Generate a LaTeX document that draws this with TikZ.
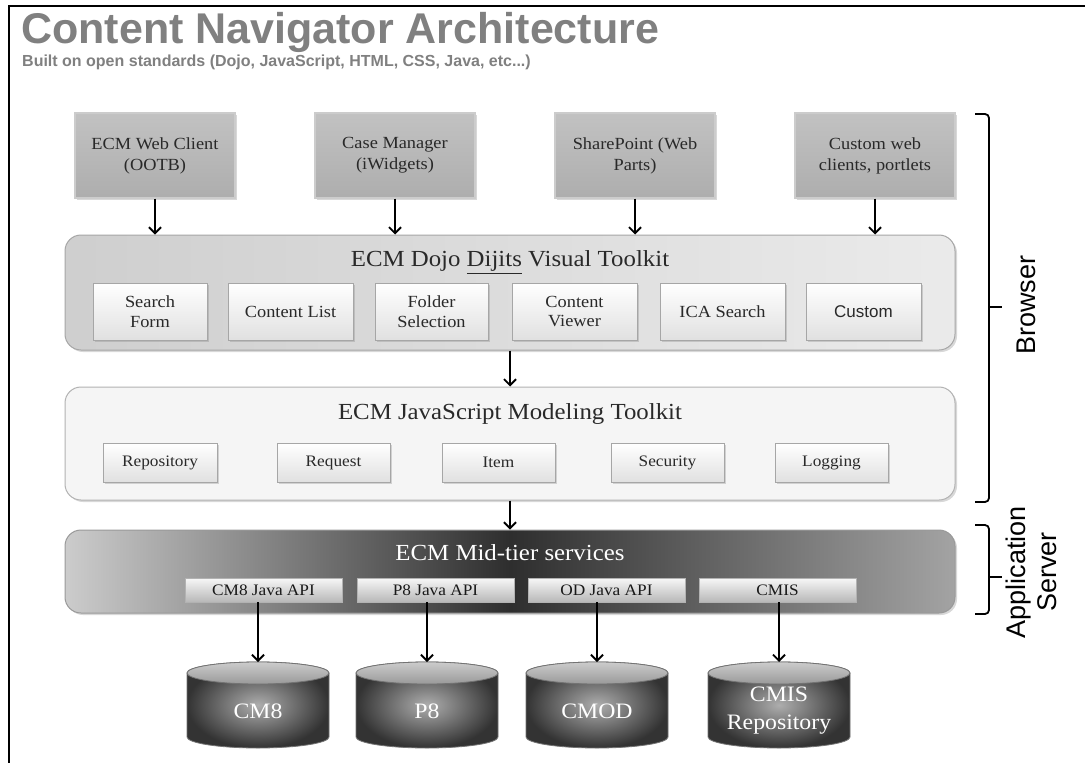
\documentclass[tikz,border=0pt]{standalone}
\usepackage{fontspec}
\setmainfont{Liberation Serif}[FakeStretch=1.08]
\newfontfamily\arial{Liberation Sans}
\usetikzlibrary{shadows,arrows.meta}
\definecolor{txt}{gray}{0.16}
\definecolor{ttl}{gray}{0.5}
\newcommand{\dbcyl}[3]{%
  \shade[inner color=black!32, outer color=black!80, draw=black!55, line width=0.8pt]
    (#2-71,673) -- (#2-71,737) arc[start angle=180, end angle=360, x radius=71pt, y radius=11pt]
    -- (#2+71,673) arc[start angle=0, end angle=180, x radius=71pt, y radius=11pt] -- cycle;
  \shade[top color=black!20, bottom color=black!40, draw=black!55, line width=0.8pt]
    (#2,673) ellipse[x radius=71pt, y radius=11pt];
  \coordinate (#1top) at (#2,662);
  \node[dbtext] (#1) at (#2,711) {#3};
}
\begin{document}
\begin{tikzpicture}[x=1pt,y=-1pt,
  shade1/.style={drop shadow={opacity=0.3, shadow xshift=2pt, shadow yshift=-2pt}},
  topbox/.style={draw=black!20, line width=1.2pt, top color=black!24, bottom color=black!32,
    minimum width=160pt, minimum height=85pt, align=center, inner sep=2pt,
    font=\fontsize{17}{21}\selectfont, text=txt, shade1},
  container/.style={rounded corners=16pt, line width=1pt, minimum width=890pt, shade1},
  ctitle/.style={font=\fontsize{23}{26}\selectfont, text=txt, inner sep=0pt},
  inbox/.style={draw=black!35, line width=0.8pt, top color=white, bottom color=black!12,
    minimum height=57pt, align=center, inner sep=1pt, font=\fontsize{17}{19.5}\selectfont, text=txt, shade1},
  jsbox/.style={inbox, minimum height=39pt, minimum width=113pt, font=\fontsize{16}{18}\selectfont},
  apibox/.style={draw=black!30, line width=0.8pt, top color=black!3, bottom color=black!28,
    minimum width=157pt, minimum height=24pt, inner sep=0pt, font=\fontsize{16}{18}\selectfont, text=black!90},
  dbtext/.style={text=white, align=center, font=\fontsize{22}{28}\selectfont, inner sep=0pt},
  arr/.style={line width=1.9pt, -{Straight Barb[length=6pt,width=12pt]}},
  brk/.style={line width=1.8pt, rounded corners=4pt},
  side/.style={rotate=90, font=\arial\fontsize{27}{31}\selectfont, align=center, inner sep=0pt}
]
\useasboundingbox (0,0) rectangle (1085,763);
\fill[white] (0,0) rectangle (1085,763);
\draw[line width=2.6pt] (9,763) -- (9,6) -- (1085,6);

% titles
\node[anchor=base west, inner sep=0pt, text=ttl, font=\arial\bfseries\fontsize{43}{43}\selectfont] (title) at (21,43) {Content Navigator Architecture};
\node[anchor=base west, inner sep=0pt, text=ttl, font=\arial\bfseries\fontsize{16}{18}\selectfont] (subtitle) at (22,66) {Built on open standards (Dojo, JavaScript, HTML, CSS, Java, etc...)};

% top boxes
\node[topbox] (tb1) at (155,155.5) {ECM Web Client\\(OOTB)};
\node[topbox] (tb2) at (395,155.5) {Case Manager\\(iWidgets)};
\node[topbox] (tb3) at (635,155.5) {SharePoint (Web\\Parts)};
\node[topbox] (tb4) at (875,155.5) {Custom web\\clients, portlets};

% Dojo container
\node[container, draw=black!35, left color=black!19, right color=black!8, minimum height=115pt] (dojo) at (510,292.5) {};
\node[ctitle] (dojotitle) at (510,262) {ECM Dojo \underline{Dijits} Visual Toolkit};
\node[inbox, minimum width=114pt] (sf) at (150,311.5) {Search\\Form};
\node[inbox, minimum width=125pt] (cl) at (290.5,311.5) {Content List};
\node[inbox, minimum width=113pt] (fs) at (431.5,311.5) {Folder\\Selection};
\node[inbox, minimum width=125pt] (cv) at (574.5,311.5) {Content\\Viewer};
\node[inbox, minimum width=125pt] (ica) at (722.5,311.5) {ICA Search};
\node[inbox, minimum width=115pt, font=\arial\fontsize{17}{19}\selectfont] (cu) at (863.5,311.5) {Custom};

% JS container
\node[container, draw=black!30, fill=black!4, minimum height=113pt] (js) at (510,443.5) {};
\node[ctitle] (jstitle) at (510,414) {ECM JavaScript Modeling Toolkit};
\node[jsbox, minimum width=114pt] (rep) at (160,462.5) {Repository};
\node[jsbox] (req) at (333.5,462.5) {Request};
\node[jsbox] (item) at (498.5,462.5) {Item};
\node[jsbox] (sec) at (667.5,462.5) {Security};
\node[jsbox] (log) at (831.5,462.5) {Logging};

% Mid-tier container
\node[container, draw=black!40, left color=black!20, right color=black!36, middle color=black!82, minimum height=83pt] (mid) at (510,571.5) {};
\node[ctitle, text=white] (midtitle) at (510,553) {ECM Mid-tier services};
\node[apibox] (api1) at (263.5,590) {CM8 Java API};
\node[apibox] (api2) at (435.5,590) {P8 Java API};
\node[apibox] (api3) at (606.5,590) {OD Java API};
\node[apibox] (api4) at (777.5,590) {CMIS};

% databases
\dbcyl{db1}{258}{CM8}
\dbcyl{db2}{427}{P8}
\dbcyl{db3}{597}{CMOD}
\dbcyl{db4}{779}{CMIS\\Repository}

% arrows
\draw[arr] (tb1.south) -- (tb1.south |- dojo.north);
\draw[arr] (tb2.south) -- (tb2.south |- dojo.north);
\draw[arr] (tb3.south) -- (tb3.south |- dojo.north);
\draw[arr] (tb4.south) -- (tb4.south |- dojo.north);
\draw[arr] (dojo.south) -- (js.north);
\draw[arr] (js.south) -- (mid.north);
\draw[arr] (api1.south -| db1top) -- (db1top);
\draw[arr] (api2.south -| db2top) -- (db2top);
\draw[arr] (api3.south -| db3top) -- (db3top);
\draw[arr] (api4.south -| db4top) -- (db4top);

% brackets
\draw[brk] (975,114) -- (989,114) -- (989,502) -- (975,502);
\draw[line width=1.8pt] (989,307) -- (1002,307);
\draw[brk] (975,525) -- (989,525) -- (989,614) -- (975,614);
\draw[line width=1.8pt] (989,577) -- (1002,577);
\node[side] (browser) at (1026,305) {Browser};
\node[side] (appserver) at (1031,572) {Application\\Server};
\end{tikzpicture}
\end{document}
